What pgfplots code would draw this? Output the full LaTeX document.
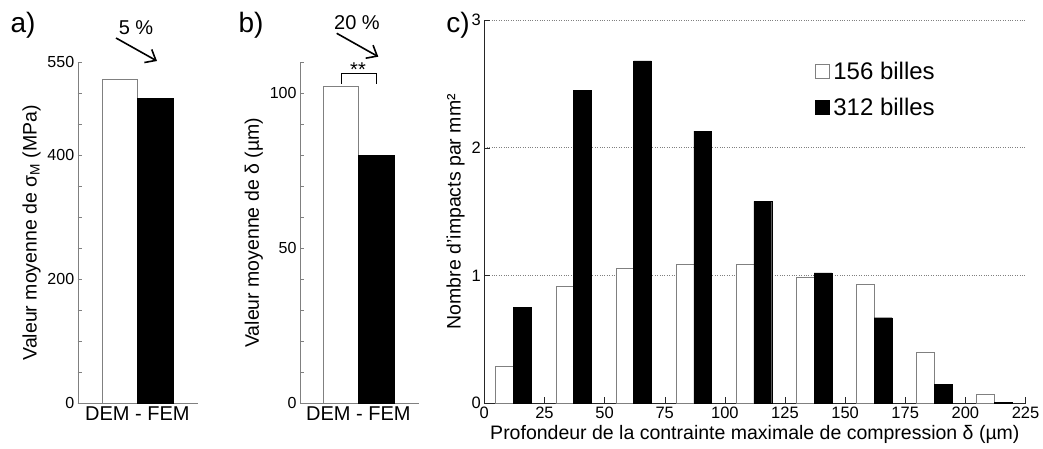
\documentclass[border=0pt]{standalone}
\usepackage{pgfplots}
\pgfplotsset{compat=1.18}
\usepackage{fontspec}
\setmainfont{Liberation Sans}
\usetikzlibrary{arrows.meta}
\newcommand\fs[1]{\fontsize{#1}{#1}\selectfont}

\pgfplotsset{
  panel/.style={
    scale only axis, anchor=south west,
    axis x line*=bottom, axis y line*=left,
    tick align=inside,
    major tick length=4pt, minor tick length=4pt,
    /pgf/number format/assume math mode=true,
    ymin=0,
    yticklabel style={font=\fs{16}},
    ylabel style={font=\fs{19.5}},
  },
  sqlegend/.style={legend image code/.code={%
    \draw[##1,/tikz/.cd] (0pt,-7pt) rectangle (14pt,7pt);}},
}

\begin{document}
\begin{tikzpicture}[x=1pt,y=1pt]
\path[use as bounding box] (0,0) rectangle (1043,448);

% a) contrainte moyenne
\begin{axis}[panel,
  at={(77.7pt,44.7pt)}, width=120pt, height=341pt,
  xmin=-59.6, xmax=60.4, ymax=550,
  ytick={0,200,400,550},
  minor ytick={50,100,150,250,300,350,450,500},
  xtick={0}, xticklabels={DEM - FEM},
  xticklabel style={font=\fs{20}},
  x tick style={draw=none},
  axis line style={gray}, tick style={gray},
  ylabel={Valeur moyenne de σ\textsubscript{M} (MPa)},
]
\addplot[ybar, bar width=35pt, bar shift=-17.5pt, draw=gray, fill=white] coordinates {(0,522)};
\addplot[ybar, bar width=36pt, bar shift=18pt, draw=black, fill=black] coordinates {(0,492)};
\end{axis}

% b) profondeur moyenne
\begin{axis}[panel,
  at={(300pt,44.7pt)}, width=119pt, height=341pt,
  xmin=-58.3, xmax=60.7, ymax=110,
  ytick={0,50,100},
  minor ytick={10,20,30,40,60,70,80,90,110},
  xtick={0}, xticklabels={DEM - FEM},
  xticklabel style={font=\fs{20}},
  x tick style={draw=none},
  axis line style={gray}, tick style={gray},
  ylabel={Valeur moyenne de δ (µm)},
]
\addplot[ybar, bar width=35pt, bar shift=-17.5pt, draw=gray, fill=white] coordinates {(0,102.4)};
\addplot[ybar, bar width=35.7pt, bar shift=17.85pt, draw=black, fill=black] coordinates {(0,80)};
\end{axis}

% c) histogramme
\begin{axis}[panel,
  at={(484.3pt,44.7pt)}, width=541.2pt, height=383.3pt,
  xmin=0, xmax=225, ymax=3,
  xtick={0,25,...,225}, ytick={0,1,2,3},
  major tick length=6pt,
  xticklabel style={font=\fs{16.5}},
  yticklabel style={font=\fs{16.5}},
  ymajorgrids, grid style={dotted, gray, line width=0.7pt},
  axis line style={black!85}, tick style={black!85},
  xlabel={Profondeur de la contrainte maximale de compression δ (µm)},
  xlabel style={font=\fs{19.5}},
  ylabel={Nombre d'impacts par mm²},
  legend style={draw=none, fill=none, font=\fs{24},
    at={(0.605,0.902)}, anchor=north west, row sep=13pt,
    legend cell align=left,
    nodes={inner xsep=4pt}},
]
\addplot[ybar, bar width=7.4, bar shift=0pt, draw=gray, fill=white, sqlegend]
  coordinates {(8.4,0.29) (33.4,0.92) (58.4,1.06) (83.4,1.09) (108.4,1.09)
               (133.4,0.99) (158.4,0.93) (183.4,0.40) (208.4,0.07)};
\addlegendentry{156 billes}
\addplot[ybar, bar width=7.4, bar shift=0pt, draw=black, fill=black, sqlegend]
  coordinates {(15.8,0.75) (40.8,2.45) (65.8,2.68) (90.8,2.13) (115.8,1.58)
               (140.8,1.02) (165.8,0.67) (190.8,0.15) (215.8,0.01)};
\addlegendentry{312 billes}
\end{axis}

% annotations
\node[font=\fs{28}] at (23,423) {a)};
\node[font=\fs{28}] at (251,423) {b)};
\node[font=\fs{28}] at (458,423) {c)};
\node[font=\fs{20}] at (136,420) {5 \%};
\draw[line width=1.6pt, -{Straight Barb[length=9pt,width=15pt]}] (116,410) -- (157,387);
\node[font=\fs{20}] at (357,425) {20 \%};
\draw[line width=1.6pt, -{Straight Barb[length=9pt,width=15pt]}] (336.7,414.7) -- (378.3,391.3);
\draw[line width=1pt] (341.7,364) -- (341.7,374) -- (376.7,374) -- (376.7,364);
\node[font=\fs{20}] at (358,378) {**};
\end{tikzpicture}
\end{document}
